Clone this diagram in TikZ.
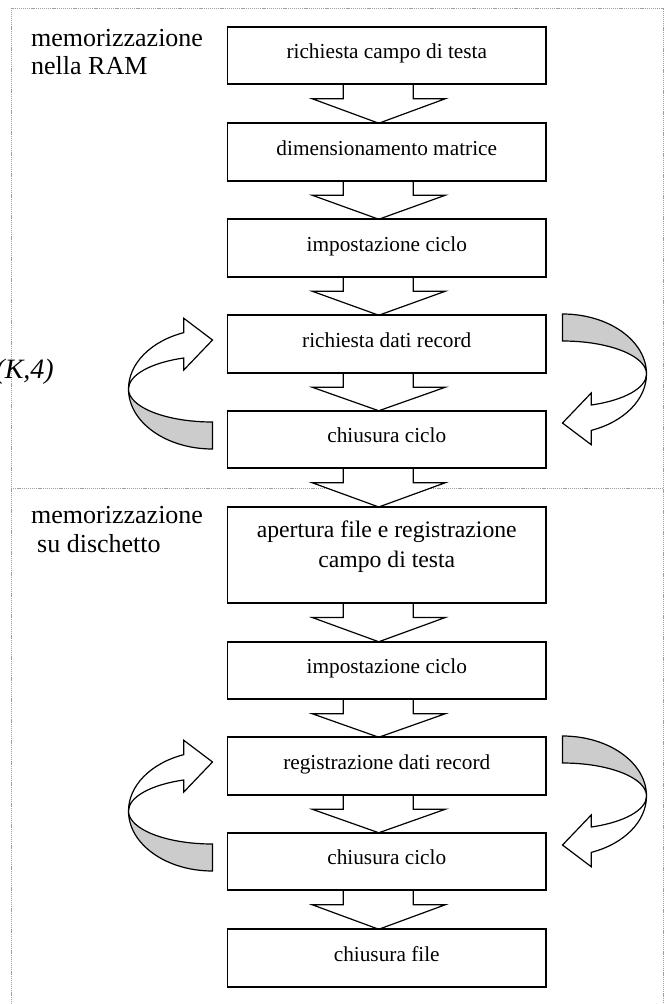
\documentclass[tikz,border=0pt]{standalone}
\usepackage{fontspec}
\setmainfont{Liberation Serif}
\usetikzlibrary{calc,backgrounds}

\tikzset{
  stepbox/.style={draw, line width=1.8pt, fill=white, minimum width=318.5pt,
    minimum height=57.5pt, inner sep=0pt, outer sep=0pt,
    font=\fontsize{21.3}{25}\selectfont, text height=10pt, text depth=4pt},
  blockarr/.style={draw, line width=1.2pt, fill=white, line join=miter},
  loopline/.style={draw, line width=1.2pt, line join=miter},
  framerule/.style={draw=gray!75, line width=0.7pt, dash pattern=on 1.2pt off 0.9pt},
  sectlabel/.style={font=\fontsize{26}{28}\selectfont, anchor=base west, inner sep=0pt},
  % twisted ribbon arrow that loops back to the left of a pair of steps
  pics/loopback/.style={code={
    \path[loopline, fill=gray!40] (90:84 and 60)
      arc[start angle=90, end angle=180, x radius=84, y radius=60]
      arc[start angle=180, end angle=90, x radius=84, y radius=33] -- cycle;
    \path[loopline, fill=white] (180:84 and 60)
      arc[start angle=180, end angle=250, x radius=84, y radius=33]
      -- (-28.7,-19) -- (0,-49) -- (-28.7,-70.7) -- (250:84 and 60)
      arc[start angle=250, end angle=180, x radius=84, y radius=60] -- cycle;
  }}
}

% hollow block arrow from the bottom of one step to the top of the next
\newcommand{\flowarrow}[2]{%
  \path[blockarr] ($(#1.south)+(-43.5,0)$) -- ($(#1.south)+(-43.5,14.5)$)
    -- ($(#1.south)+(-74.5,14.5)$) -- ($(#2.north)+(-8,0)$)
    -- ($(#1.south)+(58.5,14.5)$) -- ($(#1.south)+(26.5,14.5)$)
    -- ($(#1.south)+(26.5,0)$);}

\begin{document}
\begin{tikzpicture}[x=1pt, y=-1pt]
\useasboundingbox (0,0) rectangle (665,1004);

% steps
\node[stepbox] (b1) at (386.75,55.5) {richiesta campo di testa};
\node[stepbox] (b2) at (386.75,152) {dimensionamento matrice};
\node[stepbox] (b3) at (386.75,248) {impostazione ciclo};
\node[stepbox] (b4) at (386.75,344) {richiesta dati record};
\node[stepbox] (b5) at (386.75,439.5) {chiusura ciclo};
\node[stepbox, minimum height=96pt, font=\fontsize{23.7}{30}\selectfont,
      text height=0pt, text depth=36pt] (b6) at (386.75,555)
  {\begin{tabular}[t]{@{}c@{}}apertura file e registrazione\\campo di testa\end{tabular}};
\node[stepbox] (b7) at (386.75,670.5) {impostazione ciclo};
\node[stepbox] (b8) at (386.75,766) {registrazione dati record};
\node[stepbox] (b9) at (386.75,861.5) {chiusura ciclo};
\node[stepbox] (b10) at (386.75,958) {chiusura file};

% section labels
\node[sectlabel] (ram) at (31,46.7)
  {\begin{tabular}[t]{@{}l@{}}memorizzazione\\nella RAM\end{tabular}};
\node[sectlabel, font=\fontsize{26}{29.5}\selectfont] (disk) at (31,523.3)
  {\begin{tabular}[t]{@{}l@{}}memorizzazione\\\hspace*{6pt}su dischetto\end{tabular}};
\node[font=\fontsize{28}{30}\selectfont\itshape, anchor=base east, inner sep=0pt]
  (idx) at (54,378) {(K,4)};

\begin{pgfonlayer}{background}
  % dotted frame and section divider
  \draw[framerule] (11,1004) -- (11,8) -- (663,8) -- (663,1004);
  \draw[framerule] (11,488) -- (663,488);
  % flow between steps
  \flowarrow{b1}{b2}
  \flowarrow{b2}{b3}
  \flowarrow{b3}{b4}
  \flowarrow{b4}{b5}
  \flowarrow{b5}{b6}
  \flowarrow{b6}{b7}
  \flowarrow{b7}{b8}
  \flowarrow{b8}{b9}
  \flowarrow{b9}{b10}
\end{pgfonlayer}

% loops
\pic at ($(b4.west)+(-15,45)$) {loopback};
\pic[rotate=180] at ($(b4.east)+(16.5,30)$) {loopback};
\pic at ($(b8.west)+(-15,45)$) {loopback};
\pic[rotate=180] at ($(b8.east)+(16.5,30)$) {loopback};
\end{tikzpicture}
\end{document}
